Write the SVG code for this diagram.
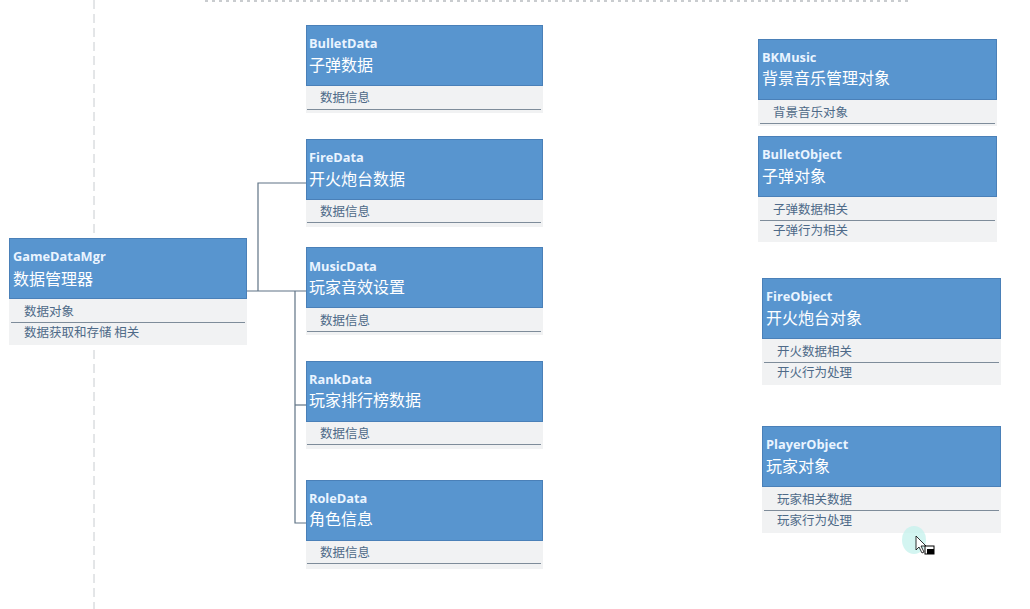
<svg xmlns="http://www.w3.org/2000/svg" width="1030" height="609" viewBox="0 0 1030 609">
<style>
.hd{fill:#5895CF;stroke:#4A80B8;stroke-width:1}
.fb{fill:#F1F2F3}
.sep{stroke:#7E8C9A;stroke-width:1}
.en{font-family:"Open Sans","Noto Sans",sans-serif;font-weight:700;font-size:12.8px;fill:#EAF4FF}
.cn{font-family:"Noto Sans CJK SC",sans-serif;font-size:16px;fill:#FFFFFF}
.fd{font-family:"Noto Sans CJK SC",sans-serif;font-size:12.5px;fill:#4E6A88}
.cx{fill:none;stroke:#5F7385;stroke-width:1.2}
</style>
<rect width="1030" height="609" fill="#FFFFFF"/>
<line x1="94" y1="0" x2="94" y2="609" stroke="#C8CCD0" stroke-width="1" stroke-dasharray="9,5"/>
<line x1="205" y1="1" x2="910" y2="1" stroke="#B8BCC0" stroke-width="1.5" stroke-dasharray="3,4"/>

<g id="connectors">
<path class="cx" d="M247,291 H306"/>
<path class="cx" d="M258,291 V183 H306"/>
<path class="cx" d="M295,291 V523 H306"/>
<path class="cx" d="M295,405 H306"/>
</g>

<g id="GameDataMgr">
<rect class="fb" x="9" y="299" width="238" height="46"/>
<rect class="hd" x="9.5" y="238.5" width="237" height="60"/>
<text class="en" x="13" y="261">GameDataMgr</text>
<text class="cn" x="13" y="285">数据管理器</text>
<text class="fd" x="24" y="316">数据对象</text>
<line class="sep" x1="11" y1="322.5" x2="245" y2="322.5"/>
<text class="fd" x="24" y="337">数据获取和存储 相关</text>
</g>

<g id="BulletData">
<rect class="fb" x="306" y="85" width="237" height="28"/>
<rect class="hd" x="306.5" y="25.5" width="236" height="60"/>
<text class="en" x="309" y="48">BulletData</text>
<text class="cn" x="309" y="71">子弹数据</text>
<text class="fd" x="320" y="102">数据信息</text>
<line class="sep" x1="307" y1="109.5" x2="541" y2="109.5"/>
</g>

<g id="FireData">
<rect class="fb" x="306" y="199" width="237" height="28"/>
<rect class="hd" x="306.5" y="139.5" width="236" height="60"/>
<text class="en" x="309" y="162">FireData</text>
<text class="cn" x="309" y="185">开火炮台数据</text>
<text class="fd" x="320" y="216">数据信息</text>
<line class="sep" x1="307" y1="222.5" x2="541" y2="222.5"/>
</g>

<g id="MusicData">
<rect class="fb" x="306" y="307" width="237" height="28"/>
<rect class="hd" x="306.5" y="247.5" width="236" height="60"/>
<text class="en" x="309" y="271">MusicData</text>
<text class="cn" x="309" y="293">玩家音效设置</text>
<text class="fd" x="320" y="325">数据信息</text>
<line class="sep" x1="307" y1="331.5" x2="541" y2="331.5"/>
</g>

<g id="RankData">
<rect class="fb" x="306" y="421" width="237" height="28"/>
<rect class="hd" x="306.5" y="361.5" width="236" height="60"/>
<text class="en" x="309" y="384">RankData</text>
<text class="cn" x="309" y="406">玩家排行榜数据</text>
<text class="fd" x="320" y="438">数据信息</text>
<line class="sep" x1="307" y1="444.5" x2="541" y2="444.5"/>
</g>

<g id="RoleData">
<rect class="fb" x="306" y="541" width="237" height="28"/>
<rect class="hd" x="306.5" y="480.5" width="236" height="60"/>
<text class="en" x="309" y="503">RoleData</text>
<text class="cn" x="309" y="525">角色信息</text>
<text class="fd" x="320" y="557">数据信息</text>
<line class="sep" x1="307" y1="563.5" x2="541" y2="563.5"/>
</g>

<g id="BKMusic">
<rect class="fb" x="758" y="99" width="239" height="27"/>
<rect class="hd" x="758.5" y="39.5" width="238" height="60"/>
<text class="en" x="762" y="62">BKMusic</text>
<text class="cn" x="762" y="84">背景音乐管理对象</text>
<text class="fd" x="773" y="117">背景音乐对象</text>
<line class="sep" x1="760" y1="123.5" x2="995" y2="123.5"/>
</g>

<g id="BulletObject">
<rect class="fb" x="758" y="197" width="239" height="45"/>
<rect class="hd" x="758.5" y="136.5" width="238" height="60"/>
<text class="en" x="762" y="159">BulletObject</text>
<text class="cn" x="762" y="182">子弹对象</text>
<text class="fd" x="773" y="214">子弹数据相关</text>
<line class="sep" x1="760" y1="220.5" x2="995" y2="220.5"/>
<text class="fd" x="773" y="235">子弹行为相关</text>
</g>

<g id="FireObject">
<rect class="fb" x="762" y="339" width="239" height="46"/>
<rect class="hd" x="762.5" y="278.5" width="238" height="60"/>
<text class="en" x="766" y="301">FireObject</text>
<text class="cn" x="766" y="324">开火炮台对象</text>
<text class="fd" x="777" y="356">开火数据相关</text>
<line class="sep" x1="764" y1="362.5" x2="999" y2="362.5"/>
<text class="fd" x="777" y="377">开火行为处理</text>
</g>

<g id="PlayerObject">
<rect class="fb" x="762" y="487" width="239" height="46"/>
<rect class="hd" x="762.5" y="426.5" width="238" height="60"/>
<text class="en" x="766" y="449">PlayerObject</text>
<text class="cn" x="766" y="472">玩家对象</text>
<text class="fd" x="777" y="504">玩家相关数据</text>
<line class="sep" x1="764" y1="510.5" x2="999" y2="510.5"/>
<text class="fd" x="777" y="525">玩家行为处理</text>
</g>

<g id="cursor">
<ellipse cx="914" cy="540" rx="12" ry="14" fill="#C4F2EC" opacity="0.75"/>
<path d="M916,536 V550 L919,547 L922,553 L924,552 L921,546 L926,546 Z" fill="#FFFFFF" stroke="#000000" stroke-width="0.8"/>
<rect x="925" y="546" width="9" height="8" fill="#FFFFFF" stroke="#000000" stroke-width="1"/>
<rect x="927" y="549" width="7" height="5" fill="#000000"/>
</g>
</svg>
